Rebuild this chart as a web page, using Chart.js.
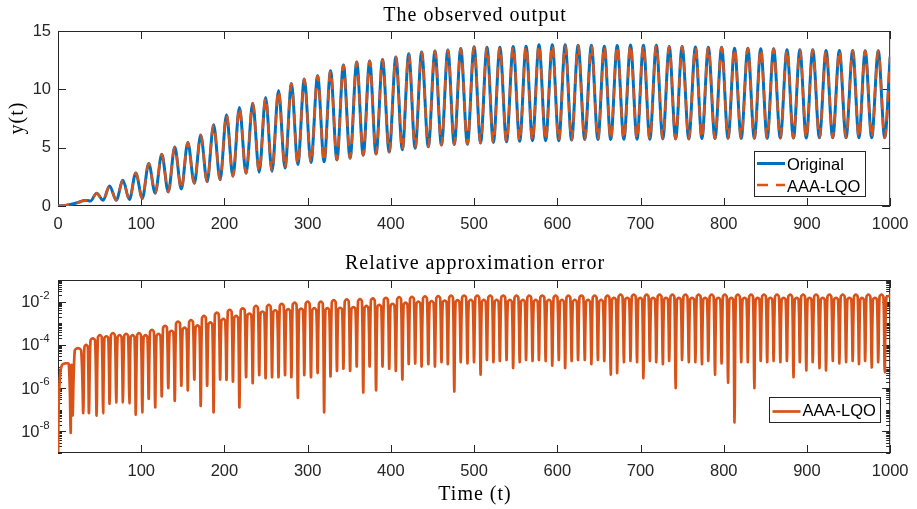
<!DOCTYPE html>
<html>
<head>
<meta charset="utf-8">
<script src="https://cdn.jsdelivr.net/npm/chart.js@4.4.1/dist/chart.umd.min.js"></script>
<style>
  html, body { margin: 0; padding: 0; background: #fff; }
  #wrap { position: relative; width: 917px; height: 509px; }
  #top-chart { position: absolute; left: 0; top: 0; }
  #err-chart { position: absolute; left: 0; top: 240px; }
</style>
</head>
<body>
<div id="wrap">
  <canvas id="top-chart" width="917" height="240"></canvas>
  <canvas id="err-chart" width="917" height="269"></canvas>
</div>
<script>
// ---- observed output y(t) ----
// slow start before the oscillation settles in
const leadT = [0, 8, 16, 24, 30, 35, 39];
const leadY = [0, 0.05, 0.15, 0.3, 0.45, 0.48, 0.42];

const peakT = [46.4, 62, 78, 93.5, 109, 124.7, 140.3, 156, 171.5, 187,
  202.5, 218, 234, 249.5, 265, 280.5, 296, 312, 327.5, 343,
  359, 374.5, 390, 406, 421.5, 437, 453, 468.5, 484, 500,
  515.5, 531, 547, 562.5, 578, 594, 609.5, 625, 641, 656.5,
  672, 688, 703.5, 719, 734.5, 750, 766, 781.5, 797.5, 813,
  829, 844.5, 860, 876, 891.5, 907, 923, 939, 955, 970, 985.7];
const peakY = [1.1, 1.72, 2.2, 2.83, 3.65, 4.43, 5.05, 5.45, 6.08, 6.97,
  7.82, 8.45, 8.8, 9.3, 9.9, 10.5, 10.88, 11.17, 11.6, 12.08,
  12.35, 12.43, 12.55, 12.77, 13.05, 13.2, 13.28, 13.38, 13.5, 13.65,
  13.6, 13.6, 13.68, 13.7, 13.82, 13.82, 13.82, 13.77, 13.77, 13.7,
  13.75, 13.8, 13.77, 13.77, 13.68, 13.68, 13.62, 13.6, 13.6, 13.53,
  13.53, 13.47, 13.47, 13.4, 13.4, 13.4, 13.33, 13.33, 13.33, 13.3, 13.3];
const troughT = [54.2, 70, 85.8, 101.3, 116.8, 132.5, 148.2, 163.8, 179.2, 194.8,
  210.2, 226, 241.8, 257.2, 272.8, 288.2, 304, 319.8, 335.2, 351,
  366.8, 382.2, 398, 413.8, 429.2, 445, 460.8, 476.2, 492, 507.8,
  523.2, 539, 554.8, 570.2, 586, 601.8, 617.2, 633, 648.8, 664.2,
  680, 695.8, 711.2, 726.8, 742.2, 758, 773.8, 789.5, 805.2, 821,
  836.8, 852.2, 868, 883.8, 899.2, 915, 931, 947, 962.5, 977.8, 993.5];
const troughY = [0.5, 0.5, 0.55, 0.65, 1.1, 1.2, 1.45, 1.95, 2.08, 2.25,
  2.55, 2.8, 2.9, 2.97, 3.25, 3.55, 3.72, 3.8, 3.95, 4.1,
  4.35, 4.45, 4.62, 4.83, 4.95, 5.07, 5.22, 5.27, 5.3, 5.4,
  5.45, 5.5, 5.54, 5.6, 5.6, 5.6, 5.65, 5.7, 5.7, 5.7,
  5.72, 5.72, 5.72, 5.75, 5.75, 5.75, 5.78, 5.78, 5.8, 5.8,
  5.8, 5.8, 5.82, 5.82, 5.82, 5.85, 5.85, 5.85, 5.85, 5.85, 5.85];
const lastT = 1000;
const lastY = 12.8;

// ---- relative approximation error, read off the lower (log) plot ----
const errStartT = [0.2, 0.8, 1.8, 3, 5, 9, 13];
const errStartV = [1.1e-9, 2e-7, 1.5e-6, 6e-6, 1.2e-5, 1.4e-5, 1.3e-5];
const earlyDipT = [15.2, 17.6, 30.4, 37.2];
const earlyDipV = [8.5e-9, 5.5e-8, 7e-8, 7e-8];
const earlyTopV = [1.2e-5, 7e-5, 1e-4, 2e-4];
// dips sit at the extrema of y(t): peak, trough, peak, trough, ...
const dipV = [5.4e-8, 7e-8, 1.9e-7, 2.2e-7, 2.2e-7, 2e-7, 5.9e-8, 7.6e-8, 3.2e-7, 1.3e-7,
  4.2e-7, 1e-6, 2.6e-7, 1.3e-6, 7.9e-7, 2.5e-6, 1.5e-7, 1.3e-6, 7.6e-8, 2.5e-6,
  2.4e-6, 2e-6, 1.3e-7, 3.2e-6, 1.7e-6, 4e-6, 2.9e-6, 3.2e-6, 3.2e-6, 4e-6,
  3.2e-6, 3.5e-7, 4e-6, 3.2e-6, 5e-6, 7.6e-8, 3.5e-6, 6.3e-6, 7.9e-6, 6.3e-6,
  1e-5, 6.3e-7, 1e-5, 7.9e-7, 1e-5, 7.9e-6, 6.3e-6, 2.5e-6, 1.3e-5, 1.4e-5,
  1e-5, 1.3e-5, 1e-5, 1.6e-5, 1.3e-5, 7e-7, 1.6e-5, 1.4e-5, 1.6e-5, 4.2e-6,
  2e-5, 1.6e-5, 1.8e-5, 2e-5, 8.5e-6, 1.6e-5, 2e-5, 1.8e-5, 2e-5, 1.8e-5,
  1.1e-5, 2e-5, 8.5e-6, 1.8e-5, 2e-5, 2e-5, 1.3e-5, 2e-5, 1.8e-5, 4.2e-6,
  5e-6, 1.6e-5, 1.8e-5, 1.6e-5, 2.9e-6, 1.8e-5, 1.6e-5, 1.3e-5, 1.8e-5, 1e-6,
  2e-5, 1.6e-5, 1.6e-5, 1.3e-5, 1.8e-5, 4.2e-6, 1.4e-5, 1.8e-6, 2.6e-8, 1.6e-5,
  1.6e-5, 1e-6, 1.8e-5, 1.6e-5, 1.8e-5, 1.6e-5, 1.8e-5, 3.2e-6, 1.6e-5, 6.6e-6,
  1.6e-5, 8.5e-6, 6.6e-6, 1.8e-5, 1.4e-5, 1.6e-5, 1.8e-5, 1.3e-5, 1.8e-5, 9.1e-6,
  1.6e-5, 5.4e-6];
// hump tops between consecutive dips
const archV = [2.8e-4, 2.5e-4, 3.5e-4, 2.8e-4, 3.2e-4, 2.8e-4, 3.5e-4, 2.8e-4, 4.9e-4, 3.2e-4,
  7.6e-4, 4.5e-4, 1.2e-3, 6.3e-4, 1.4e-3, 7.9e-4, 2.2e-3, 1.1e-3, 3.1e-3, 1.6e-3,
  4.2e-3, 2.2e-3, 4.9e-3, 2.8e-3, 6.3e-3, 3.5e-3, 7.1e-3, 4.0e-3, 7.9e-3, 4.5e-3,
  8.9e-3, 4.8e-3, 1.0e-2, 5.0e-3, 1.0e-2, 5.0e-3, 1.17e-2, 5.2e-3, 1.26e-2, 5.6e-3,
  1.3e-2, 6.3e-3, 1.4e-2, 7.1e-3, 1.5e-2, 7.9e-3, 1.6e-2, 8.9e-3, 1.66e-2, 1.0e-2,
  1.74e-2, 1.05e-2, 1.8e-2, 1.12e-2, 1.9e-2, 1.17e-2, 1.9e-2, 1.2e-2, 1.9e-2, 1.2e-2,
  1.9e-2, 1.2e-2, 1.9e-2, 1.2e-2, 1.9e-2, 1.2e-2, 1.9e-2, 1.2e-2, 1.9e-2, 1.2e-2,
  1.9e-2, 1.2e-2, 1.9e-2, 1.2e-2, 1.9e-2, 1.2e-2, 1.9e-2, 1.2e-2, 1.9e-2, 1.5e-2,
  2.1e-2, 1.5e-2, 2.1e-2, 1.5e-2, 2.1e-2, 1.5e-2, 2.1e-2, 1.5e-2, 2.1e-2, 1.5e-2,
  2.1e-2, 1.5e-2, 2.1e-2, 1.5e-2, 2.1e-2, 1.5e-2, 2.1e-2, 1.5e-2, 2.1e-2, 1.5e-2,
  2.1e-2, 1.5e-2, 2.1e-2, 1.5e-2, 2.1e-2, 1.5e-2, 2.1e-2, 1.5e-2, 2.1e-2, 1.5e-2,
  2.1e-2, 1.5e-2, 2.1e-2, 1.5e-2, 2.1e-2, 1.5e-2, 2.1e-2, 1.5e-2, 2.1e-2, 1.5e-2,
  2.1e-2];
const errEndT = [995.5, 1000];
const errEndV = [1.6e-2, 1.9e-2];

const xTicks = [0, 100, 200, 300, 400, 500, 600, 700, 800, 900, 1000];
const yTicks = [0, 5, 10, 15];
const logLabelExp = [-8, -6, -4, -2];

const BLUE = '#0072BD';
const ORANGE = '#D95319';
const AXIS = '#262626';
const SANS = '"Liberation Sans", Arial, sans-serif';
const SERIF = '"Liberation Serif", "Times New Roman", serif';

// ---- build point lists ----
function signalPoints() {
  const pts = leadT.map((t, i) => ({ x: t, y: leadY[i] }));
  for (let i = 0; i < peakT.length; i++) {
    pts.push({ x: peakT[i], y: peakY[i] });
    if (i < troughT.length) pts.push({ x: troughT[i], y: troughY[i] });
  }
  pts.push({ x: lastT, y: lastY });
  return pts;
}

function errorPoints() {
  const dipT = earlyDipT.slice();
  const dv = earlyDipV.concat(dipV);
  const tops = earlyTopV.concat(archV);
  for (let i = 0; i < peakT.length; i++) {
    dipT.push(peakT[i]);
    if (i < troughT.length) dipT.push(troughT[i]);
  }
  const pts = errStartT.map((t, i) => ({ x: t, y: errStartV[i] }));
  for (let k = 0; k < dipT.length; k++) {
    pts.push({ x: dipT[k], y: dv[k] });
    if (k < tops.length && k + 1 < dipT.length) {
      // rounded hump: shoulders a little under the top
      const w = dipT[k + 1] - dipT[k];
      pts.push({ x: dipT[k] + 0.2 * w, y: tops[k] * 0.8 });
      pts.push({ x: dipT[k] + 0.5 * w, y: tops[k] });
      pts.push({ x: dipT[k] + 0.8 * w, y: tops[k] * 0.8 });
    }
  }
  errEndT.forEach((t, i) => pts.push({ x: t, y: errEndV[i] }));
  return pts;
}

function serifText(ctx, text, x, y, size) {
  ctx.font = size + 'px ' + SERIF;
  ctx.letterSpacing = '1px';
  ctx.fillStyle = '#000';
  ctx.textAlign = 'center';
  ctx.textBaseline = 'alphabetic';
  ctx.fillText(text, x, y);
  ctx.letterSpacing = '0px';
}

function tickLine(ctx, x0, y0, x1, y1) {
  ctx.beginPath();
  ctx.moveTo(x0, y0);
  ctx.lineTo(x1, y1);
  ctx.stroke();
}

// frame + inward ticks, drawn under the data
const topFrame = {
  id: 'topFrame',
  beforeDatasetsDraw(chart) {
    const { ctx, chartArea: a, scales } = chart;
    ctx.save();
    ctx.strokeStyle = AXIS;
    ctx.lineWidth = 1;
    xTicks.forEach(v => {
      const px = Math.round(scales.x.getPixelForValue(v)) + 0.5;
      tickLine(ctx, px, a.bottom, px, a.bottom - 8);
      tickLine(ctx, px, a.top, px, a.top + 8);
    });
    yTicks.forEach(v => {
      const py = Math.round(scales.y.getPixelForValue(v)) + 0.5;
      tickLine(ctx, a.left, py, a.left + 8, py);
      tickLine(ctx, a.right, py, a.right - 8, py);
    });
    ctx.strokeRect(a.left + 0.5, a.top + 0.5, a.right - a.left - 1, a.bottom - a.top - 1);
    ctx.restore();
  },
  afterDraw(chart) {
    const { ctx } = chart;
    ctx.save();
    serifText(ctx, 'The observed output', 475, 21, 20);
    ctx.translate(17, 118);
    ctx.rotate(-Math.PI / 2);
    serifText(ctx, 'y(t)', 0, 6, 20);
    ctx.restore();

    // legend
    ctx.save();
    ctx.fillStyle = '#fff';
    ctx.fillRect(754, 151, 111, 46);
    ctx.strokeStyle = AXIS;
    ctx.lineWidth = 1;
    ctx.strokeRect(754.5, 151.5, 111, 45);
    ctx.lineWidth = 3;
    ctx.strokeStyle = BLUE;
    tickLine(ctx, 757, 163.5, 785, 163.5);
    ctx.lineWidth = 2.5;
    ctx.strokeStyle = ORANGE;
    ctx.setLineDash([11, 8]);
    tickLine(ctx, 757, 185, 785, 185);
    ctx.setLineDash([]);
    ctx.fillStyle = '#000';
    ctx.font = '16.5px ' + SANS;
    ctx.textAlign = 'left';
    ctx.textBaseline = 'middle';
    ctx.fillText('Original', 787, 165);
    ctx.fillText('AAA-LQO', 787, 187);
    ctx.restore();
  }
};

const errFrame = {
  id: 'errFrame',
  beforeDatasetsDraw(chart) {
    const { ctx, chartArea: a, scales } = chart;
    ctx.save();
    ctx.strokeStyle = AXIS;
    ctx.lineWidth = 1;
    xTicks.forEach(v => {
      const px = Math.round(scales.x.getPixelForValue(v)) + 0.5;
      tickLine(ctx, px, a.bottom, px, a.bottom - 8);
      tickLine(ctx, px, a.top, px, a.top + 8);
    });
    for (let k = -9; k <= -2; k++) {
      for (let m = 1; m <= 9; m++) {
        const v = m * Math.pow(10, k);
        const py = Math.round(scales.y.getPixelForValue(v)) + 0.5;
        const len = (m === 1 && logLabelExp.includes(k)) ? 8 : 4;
        tickLine(ctx, a.left, py, a.left + len, py);
        tickLine(ctx, a.right, py, a.right - len, py);
      }
    }
    ctx.strokeRect(a.left + 0.5, a.top + 0.5, a.right - a.left - 1, a.bottom - a.top - 1);

    // log labels 10^k
    ctx.fillStyle = AXIS;
    logLabelExp.forEach(k => {
      const py = scales.y.getPixelForValue(Math.pow(10, k));
      ctx.font = '16.5px ' + SANS;
      ctx.textAlign = 'right';
      ctx.textBaseline = 'middle';
      ctx.fillText('10', 39.5, py + 1);
      ctx.font = '11.5px ' + SANS;
      ctx.textAlign = 'left';
      ctx.fillText(String(k), 39.5, py - 6);
    });
    ctx.restore();
  },
  afterDraw(chart) {
    const { ctx } = chart;
    ctx.save();
    serifText(ctx, 'Relative approximation error', 475, 29, 20);
    serifText(ctx, 'Time (t)', 475, 260, 20);

    ctx.fillStyle = '#fff';
    ctx.fillRect(769, 157, 112, 26);
    ctx.strokeStyle = AXIS;
    ctx.lineWidth = 1;
    ctx.strokeRect(769.5, 157.5, 111, 25);
    ctx.lineWidth = 2.7;
    ctx.strokeStyle = ORANGE;
    tickLine(ctx, 772.5, 171.5, 800.5, 171.5);
    ctx.fillStyle = '#000';
    ctx.font = '16.5px ' + SANS;
    ctx.textAlign = 'left';
    ctx.textBaseline = 'middle';
    ctx.fillText('AAA-LQO', 802.5, 171.5);
    ctx.restore();
  }
};

const sigPts = signalPoints();
const xLabel = v => String(v);

new Chart(document.getElementById('top-chart'), {
  type: 'line',
  data: {
    datasets: [
      {
        label: 'AAA-LQO', data: sigPts, order: 0,
        borderColor: ORANGE, borderWidth: 2.5, borderDash: [11, 8],
        pointRadius: 0, cubicInterpolationMode: 'monotone', fill: false
      },
      {
        label: 'Original', data: sigPts, order: 1,
        borderColor: BLUE, borderWidth: 3,
        pointRadius: 0, cubicInterpolationMode: 'monotone', fill: false
      }
    ]
  },
  options: {
    responsive: false,
    animation: false,
    devicePixelRatio: 1,
    events: [],
    layout: { padding: { top: 31, right: 25, left: 0, bottom: 0 } },
    plugins: { legend: { display: false }, tooltip: { enabled: false } },
    scales: {
      x: {
        type: 'linear', min: 0, max: 1000,
        afterBuildTicks: s => { s.ticks = xTicks.map(v => ({ value: v })); },
        afterFit: s => { s.height = 34; },
        grid: { display: false, drawTicks: false },
        border: { display: false },
        ticks: { color: AXIS, font: { family: SANS, size: 16.5 }, padding: 8.5, maxRotation: 0, callback: xLabel }
      },
      y: {
        type: 'linear', min: 0, max: 15,
        afterBuildTicks: s => { s.ticks = yTicks.map(v => ({ value: v })); },
        afterFit: s => { s.width = 58; },
        grid: { display: false, drawTicks: false },
        border: { display: false },
        ticks: { color: AXIS, font: { family: SANS, size: 16.5 }, padding: 7 }
      }
    }
  },
  plugins: [topFrame]
});

new Chart(document.getElementById('err-chart'), {
  type: 'line',
  data: {
    datasets: [
      {
        label: 'AAA-LQO', data: errorPoints(),
        borderColor: ORANGE, borderWidth: 2.7, borderJoinStyle: 'round',
        pointRadius: 0, tension: 0.3, fill: false
      }
    ]
  },
  options: {
    responsive: false,
    animation: false,
    devicePixelRatio: 1,
    events: [],
    layout: { padding: { top: 40, right: 25, left: 0, bottom: 0 } },
    plugins: { legend: { display: false }, tooltip: { enabled: false } },
    scales: {
      x: {
        type: 'linear', min: 0, max: 1000,
        afterBuildTicks: s => { s.ticks = xTicks.map(v => ({ value: v })); },
        afterFit: s => { s.height = 56; },
        grid: { display: false, drawTicks: false },
        border: { display: false },
        ticks: {
          color: AXIS, font: { family: SANS, size: 16.5 }, padding: 8.5, maxRotation: 0,
          callback: v => (v === 0 ? '' : String(v))
        }
      },
      y: {
        type: 'logarithmic', min: 1e-9, max: 1e-1,
        afterFit: s => { s.width = 58; },
        grid: { display: false, drawTicks: false },
        border: { display: false },
        ticks: { display: false }
      }
    }
  },
  plugins: [errFrame]
});
</script>
</body>
</html>
